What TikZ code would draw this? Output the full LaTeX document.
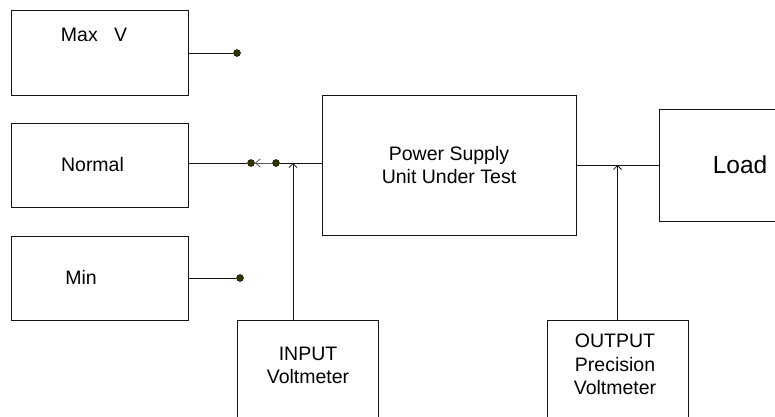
\documentclass[tikz,border=0pt]{standalone}
\usepackage{fontspec}
\setmainfont{Liberation Sans}
\usetikzlibrary{arrows.meta,calc}
\definecolor{testLine}{RGB}{20,20,20}
\definecolor{testDot}{RGB}{51,51,0}

\begin{document}
\begin{tikzpicture}[x=1pt, y=-1pt,
      box/.style={draw=testLine, line width=0.8pt, inner sep=0pt},
      lbl/.style={font=\fontsize{19.5}{23.5}\selectfont, align=center},
      tap/.style={circle, fill=testDot, draw=black, line width=0.4pt,
                  inner sep=0pt, minimum size=7pt},
      wire/.style={testLine, line width=0.8pt},
      barb/.style={-{Straight Barb[length=4pt, width=8pt]}, testLine, line width=0.8pt}
    ]
    \clip (0,0) rectangle (775,416);

    % supply levels
    \node[box, minimum width=177pt, minimum height=85pt] (maxv) at (99.5,52.5) {};
    \node[box, minimum width=177pt, minimum height=84pt] (norm) at (99.5,165) {};
    \node[box, minimum width=177pt, minimum height=84pt] (minv) at (99.5,278) {};
    \node[lbl] (maxvt) at (94,35) {Max~~~V};
    \node[lbl] (normt) at (92.5,165) {Normal};
    \node[lbl] (minvt) at (81,277.5) {Min};

    % unit under test and load
    \node[box, minimum width=254pt, minimum height=140pt, lbl] (psu) at (449,165) {Power Supply\\Unit Under Test};
    \node[box, minimum width=162pt, minimum height=112pt] (load) at (740,165) {};
    \node[lbl, font=\fontsize{24.5}{28}\selectfont] (loadt) at (740,165) {Load};

    % meters
    \node[box, minimum width=141pt, minimum height=140pt] (inv) at (307.5,390) {};
    \node[box, minimum width=141pt, minimum height=140pt] (outv) at (617.5,390) {};
    \node[lbl] (invt) at (308,365.5) {INPUT\\Voltmeter};
    \node[lbl] (outvt) at (615,364.5) {OUTPUT\\Precision\\Voltmeter};

    % switch contacts
    \node[tap] (tmax) at (237,53) {};
    \node[tap] (tmin) at (240,278) {};
    \node[tap] (sw1) at (251,163) {};
    \node[tap] (sw2) at (276,163) {};
    \coordinate (injct) at (293,163);
    \coordinate (outjct) at (617.5,165);

    \draw[wire] (maxv.east |- tmax) -- (tmax);
    \draw[wire] (minv.east) -- (tmin);
    \draw[wire] ([yshift=2pt]norm.east) -- (sw1);
    \draw[-{Straight Barb[length=5pt, width=8pt]}, wire, testLine!70] (sw2) -- (sw1);
    \draw[wire] (sw2) -- (psu.west |- sw2);
    \draw[wire] (psu.east) -- (load.west);

    \draw[barb] (inv.north -| injct) -- (injct);
    \draw[barb] (outv.north) -- (outjct);
  \end{tikzpicture}
\end{document}
